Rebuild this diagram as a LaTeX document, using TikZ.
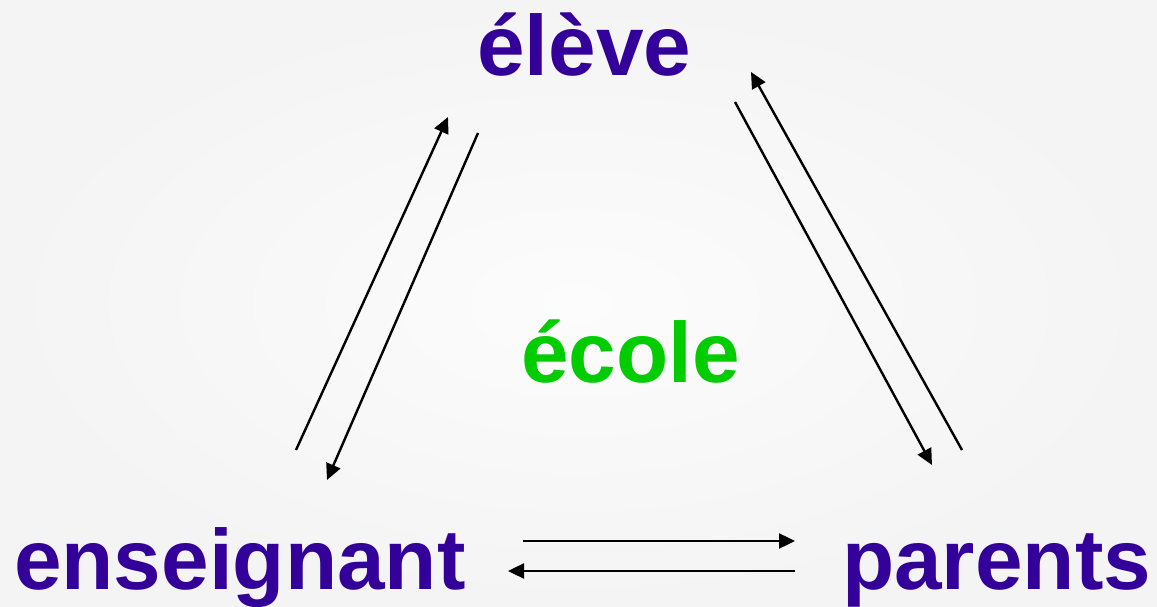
\documentclass[tikz,border=0pt]{standalone}
\usepackage{fontspec}
\setmainfont{Liberation Sans}
\usetikzlibrary{arrows.meta}
\definecolor{purpletxt}{HTML}{330099}
\definecolor{greentxt}{HTML}{00CC00}
\definecolor{bgin}{HTML}{FCFCFC}
\definecolor{bgout}{HTML}{F4F4F4}
\begin{document}
\begin{tikzpicture}[x=1pt,y=1pt,
  word/.style={anchor=base west,inner sep=0pt,font=\fontsize{85.5}{85.5}\selectfont\bfseries},
  actor/.style={word,text=purpletxt},
  place/.style={word,text=greentxt},
  flow/.style={line width=2.4pt,black,-{Triangle[length=16pt,width=15pt]}}]
\useasboundingbox (0,0) rectangle (1157,606);
\shade[inner color=bgin,outer color=bgout] (0,0) rectangle (1157,606);
% texts (baselines measured from top: y_px -> 606-y_px)
\node[actor] (eleve) at (477,530) {élève};
\node[actor] (enseignant) at (14,17) {enseignant};
\node[actor] (parents) at (842,17) {parents};
\node[place] (ecole) at (521,224) {école};
% arrow end points
\coordinate (a1s) at (296,156);
\coordinate (a1e) at (448,489);
\coordinate (a2s) at (478,473);
\coordinate (a2e) at (327,126);
\coordinate (a3s) at (962,156);
\coordinate (a3e) at (751,534);
\coordinate (a4s) at (735,504);
\coordinate (a4e) at (932,141);
\coordinate (a5s) at (523,65);
\coordinate (a5e) at (795,65);
\coordinate (a6s) at (795,35);
\coordinate (a6e) at (508,35);
\draw[flow] (a1s) -- (a1e);
\draw[flow] (a2s) -- (a2e);
\draw[flow] (a3s) -- (a3e);
\draw[flow] (a4s) -- (a4e);
\draw[flow] (a5s) -- (a5e);
\draw[flow] (a6s) -- (a6e);
\end{tikzpicture}
\end{document}
